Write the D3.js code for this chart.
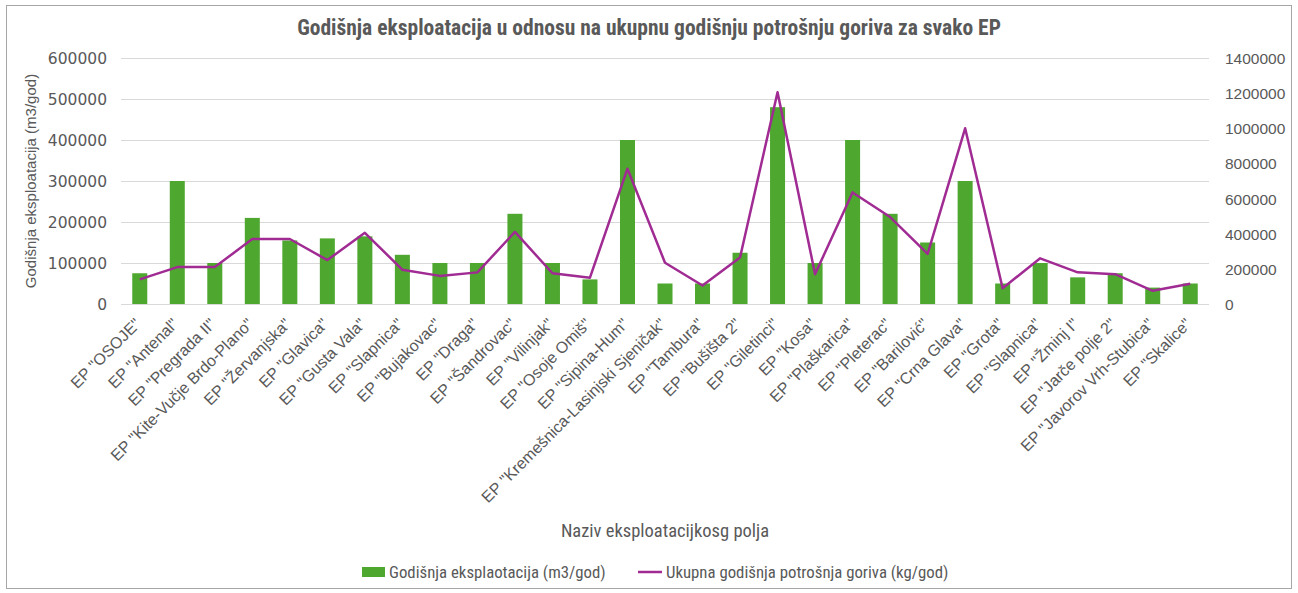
<!DOCTYPE html>
<html>
<head>
<meta charset="utf-8">
<script src="https://cdn.jsdelivr.net/npm/d3@7.9.0/dist/d3.min.js"></script>
<style>
  body { margin: 0; background: #fff; }
  svg text { fill: #595959; font-family: "Liberation Sans", Arial, sans-serif; }
</style>
</head>
<body>
<svg id="chart" width="1298" height="593"></svg>
<script>
// ---- data ----
const fields = [
  'EP "OSOJE"', 'EP "Antenal"', 'EP "Pregrada II"', 'EP "Kite-Vučje Brdo-Plano"',
  'EP "Žervanjska"', 'EP "Glavica"', 'EP "Gusta Vala"', 'EP "Slapnica"',
  'EP "Bujakovac"', 'EP "Draga"', 'EP "Šandrovac"', 'EP "Vilinjak"',
  'EP "Osoje Omiš"', 'EP "Sipina-Hum"', 'EP "Kremešnica-Lasinjski Sjeničak"',
  'EP "Tambura"', 'EP "Bušišta 2"', 'EP "Giletinci"', 'EP "Kosa"',
  'EP "Plaškarica"', 'EP "Pleterac"', 'EP "Barilović"', 'EP "Crna Glava"',
  'EP "Grota"', 'EP "Slapnica"', 'EP "Žminj I"', 'EP "Jarče polje 2"',
  'EP "Javorov Vrh-Stubica"', 'EP "Skalice"'
];
// Godišnja eksploatacija (m3/god) - lijeva os
const exploitation = [
  75000, 300000, 100000, 210000, 155000, 160000, 165000, 120000, 100000, 100000,
  220000, 100000, 60000, 400000, 50000, 50000, 125000, 480000, 100000, 400000,
  220000, 150000, 300000, 50000, 100000, 65000, 75000, 40000, 50000
];
// Ukupna godišnja potrošnja goriva (kg/god) - desna os
const fuel = [
  140000, 210000, 210000, 370000, 370000, 250000, 405000, 195000, 160000, 180000,
  410000, 175000, 150000, 770000, 235000, 105000, 265000, 1205000, 170000, 635000,
  495000, 285000, 1000000, 90000, 260000, 180000, 170000, 75000, 115000
];
const leftTicks = [0, 100000, 200000, 300000, 400000, 500000, 600000];
const rightTicks = [0, 200000, 400000, 600000, 800000, 1000000, 1200000, 1400000];

const svg = d3.select("#chart");
const plotL = 121, plotR = 1209, plotT = 58, plotB = 304;
const narrow = '"Liberation Sans Narrow", "Roboto Condensed", "Liberation Sans", sans-serif';

// okvir grafikona
svg.append("rect")
  .attr("x", 6.5).attr("y", 5.5).attr("width", 1285).attr("height", 583)
  .attr("fill", "none").attr("stroke", "#a6a6a6").attr("stroke-width", 1);

const x = d3.scaleBand().domain(d3.range(fields.length))
  .range([plotL, plotR]).paddingInner(0.6).paddingOuter(0.3);
const y = d3.scaleLinear().domain([0, 600000]).range([plotB, plotT]);
const y2 = d3.scaleLinear().domain([0, 1400000]).range([plotB, plotT]);

// gridlines
svg.append("g").selectAll("line").data(leftTicks).join("line")
  .attr("x1", plotL).attr("x2", plotR)
  .attr("y1", d => y(d) + 0.5).attr("y2", d => y(d) + 0.5)
  .attr("stroke", "#d9d9d9").attr("stroke-width", 1);

// left axis
const axL = svg.append("g").attr("transform", `translate(${plotL - 14},0)`)
  .call(d3.axisLeft(y).tickValues(leftTicks).tickSize(0).tickPadding(0).tickFormat(d3.format("d")));
axL.select(".domain").remove();
axL.selectAll("text").style("font-family", '"DejaVu Sans", sans-serif')
  .style("font-size", "15.5px").attr("dy", "0.35em");

// right axis
const axR = svg.append("g").attr("transform", `translate(${plotR + 16},0)`)
  .call(d3.axisRight(y2).tickValues(rightTicks).tickSize(0).tickPadding(0).tickFormat(d3.format("d")));
axR.select(".domain").remove();
axR.selectAll("text").style("font-size", "15.5px").attr("dy", "0.35em");

// bars
svg.append("g").selectAll("rect").data(exploitation).join("rect")
  .attr("x", (d, i) => x(i))
  .attr("y", d => y(d))
  .attr("width", x.bandwidth())
  .attr("height", d => y(0) - y(d))
  .attr("fill", "#4ea72e");

// line
const line = d3.line()
  .x((d, i) => x(i) + x.bandwidth() / 2)
  .y(d => y2(d));
svg.append("path").datum(fuel)
  .attr("d", line)
  .attr("fill", "none")
  .attr("stroke", "#a02b93")
  .attr("stroke-width", 2.5)
  .attr("stroke-linejoin", "round");

// x labels
svg.append("g").selectAll("text").data(fields).join("text")
  .attr("transform", (d, i) => `translate(${x(i) + x.bandwidth() / 2 - 2},${plotB + 17}) rotate(-45)`)
  .attr("text-anchor", "end")
  .attr("dy", "0.35em")
  .style("font-size", "16px")
  .text(d => d);

// title
svg.append("text")
  .attr("x", 649).attr("y", 35)
  .attr("text-anchor", "middle")
  .style("font-family", narrow)
  .style("font-weight", "bold")
  .style("font-size", "21.5px")
  .text("Godišnja eksploatacija u odnosu na ukupnu godišnju potrošnju goriva za svako EP");

// axis titles
svg.append("text")
  .attr("transform", `translate(36,${(plotT + plotB) / 2}) rotate(-90)`)
  .attr("text-anchor", "middle")
  .style("font-size", "15px")
  .text("Godišnja eksploatacija (m3/god)");

svg.append("text")
  .attr("x", (plotL + plotR) / 2).attr("y", 537)
  .attr("text-anchor", "middle")
  .style("font-family", narrow)
  .style("font-size", "18.5px")
  .text("Naziv eksploatacijkosg polja");

// legend
const lg = svg.append("g");
lg.append("rect").attr("x", 362).attr("y", 567).attr("width", 23).attr("height", 10).attr("fill", "#4ea72e");
lg.append("text").attr("x", 389).attr("y", 578)
  .style("font-family", narrow)
  .style("font-size", "16.8px")
  .text("Godišnja eksplaotacija (m3/god)");
lg.append("line").attr("x1", 638).attr("x2", 662).attr("y1", 572).attr("y2", 572)
  .attr("stroke", "#a02b93").attr("stroke-width", 2.5);
lg.append("text").attr("x", 666).attr("y", 578)
  .style("font-family", narrow)
  .style("font-size", "16.8px")
  .text("Ukupna godišnja potrošnja goriva (kg/god)");
</script>
</body>
</html>
